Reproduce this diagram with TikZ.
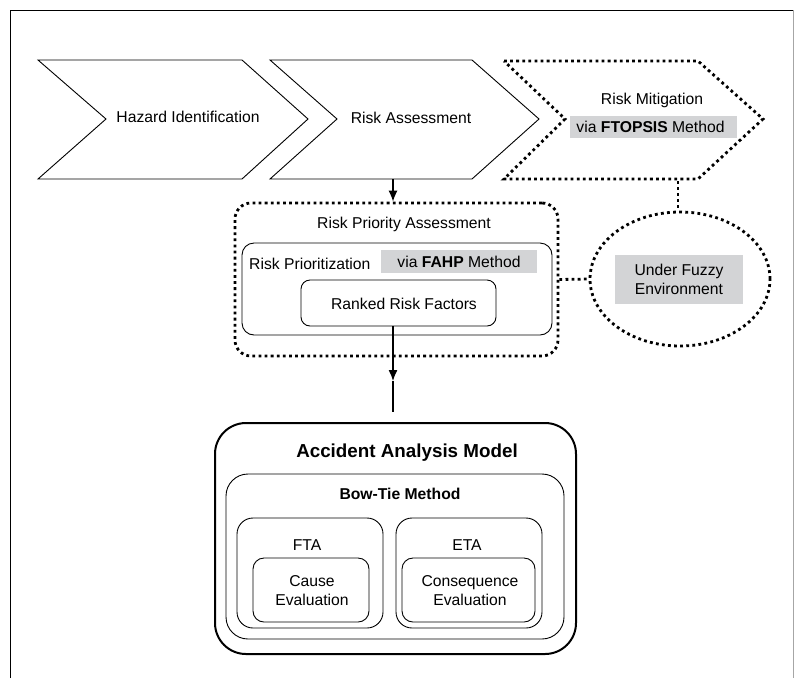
\documentclass[tikz,border=0pt]{standalone}
\usepackage{fontspec}
\setmainfont{Liberation Sans}
\usetikzlibrary{arrows.meta,shapes.geometric}
\definecolor{boxgray}{RGB}{211,212,214}
\newcommand{\fsz}{\fontsize{15.7}{19}\selectfont}
\newcommand{\fbig}{\fontsize{18.8}{22}\selectfont}
\tikzset{
  every node/.style={font=\fsz, inner sep=0pt},
  thinline/.style={draw=black, line width=0.9pt},
  dotline/.style={draw=black, line width=2.8pt, dash pattern=on 2.8pt off 3.3pt},
  rbox/.style={thinline, rounded corners=#1, minimum width=0pt, minimum height=0pt},
  graybox/.style={fill=boxgray, align=center},
  arr/.style={line width=1.3pt, -{Latex[length=11pt,width=9pt]}},
  plainline/.style={line width=1.3pt},
}
\begin{document}
\begin{tikzpicture}[x=1pt,y=-1pt]
\useasboundingbox (0,0) rectangle (794,678);
% frame
\draw[line width=1pt] (10.5,678) -- (10.5,10) -- (793,10);
\draw[line width=1pt, gray!70] (793,10) -- (793,678);

% chevrons
\draw[thinline] (38,60) -- (242,60) -- (308,119) -- (242,179) -- (38,179) -- (106,119) -- cycle;
\node (hz) at (188,117) {Hazard Identification};
\draw[thinline] (270,60) -- (472,60) -- (539,119) -- (472,179) -- (270,179) -- (337,119) -- cycle;
\node (ra) at (411,118) {Risk Assessment};
\draw[dotline] (504,61) -- (698,61) -- (763,119) -- (698,179) -- (504,179) -- (565,119) -- cycle;
\node (rm) at (652,100) {Risk Mitigation};
\node[graybox, minimum width=167pt, minimum height=22pt] (ftopsis) at (653.5,127) {via \textbf{FTOPSIS} Method\hspace{6pt}};
\coordinate (raB) at (393,179);
\coordinate (rmB) at (678,181);

% risk priority assessment
\node[dotline, rounded corners=16pt, minimum width=323pt, minimum height=153pt] (rpa) at (396.5,279.5) {};
\node (rpat) at (404,224) {Risk Priority Assessment};
\node[rbox=12pt, minimum width=310pt, minimum height=92pt] (rp) at (397,289) {};
\node[anchor=west] (rpt) at (249,264) {Risk Prioritization};
\node[graybox, minimum width=156pt, minimum height=23pt] (fahp) at (459,261.5) {via \textbf{FAHP} Method};
\node[rbox=9pt, minimum width=195pt, minimum height=46pt] (rrf) at (398.5,303) {};
\node (rrft) at (404,304) {Ranked Risk Factors};

% fuzzy ellipse
\node[ellipse, dotline, minimum width=180pt, minimum height=134pt] (fz) at (680,279) {};
\node[graybox, minimum width=128pt, minimum height=49pt] (fzt) at (679,279.5) {Under Fuzzy\\Environment};

% accident analysis model
\node[draw=black, line width=2pt, rounded corners=31pt, minimum width=361pt, minimum height=231pt] (aam) at (395.5,538.5) {};
\node (aamt) at (407,453) {\fbig\bfseries Accident Analysis Model};
\node[rbox=22pt, minimum width=338pt, minimum height=165pt] (bt) at (395,556.5) {};
\node (btt) at (400,494) {\bfseries Bow-Tie Method};
\node[rbox=16pt, minimum width=146pt, minimum height=110pt] (fta) at (310,573) {};
\node (ftat) at (307,545) {FTA};
\node[rbox=11pt, minimum width=116pt, minimum height=64pt, align=center] (ce) at (311,590) {};
\node[align=center] (cet) at (312,591) {Cause\\Evaluation};
\node[rbox=16pt, minimum width=146pt, minimum height=110pt] (eta) at (469,573) {};
\node (etat) at (467,545) {ETA};
\node[rbox=11pt, minimum width=133pt, minimum height=64pt] (cq) at (468.5,590) {};
\node[align=center] (cqt) at (470,591) {Consequence\\Evaluation};

% connectors
\draw[arr] (raB) -- (raB |- rpa.north);
\coordinate (amid) at (393,381);
\coordinate (aend) at (393,412);
\draw[arr] (rrf.south -| amid) -- (amid);
\draw[plainline] (amid) -- (aend);
\draw[dotline] (rmB) -- (rmB |- fz.north);
\draw[dotline] (rpa.east) -- (fz.west);
\end{tikzpicture}
\end{document}
